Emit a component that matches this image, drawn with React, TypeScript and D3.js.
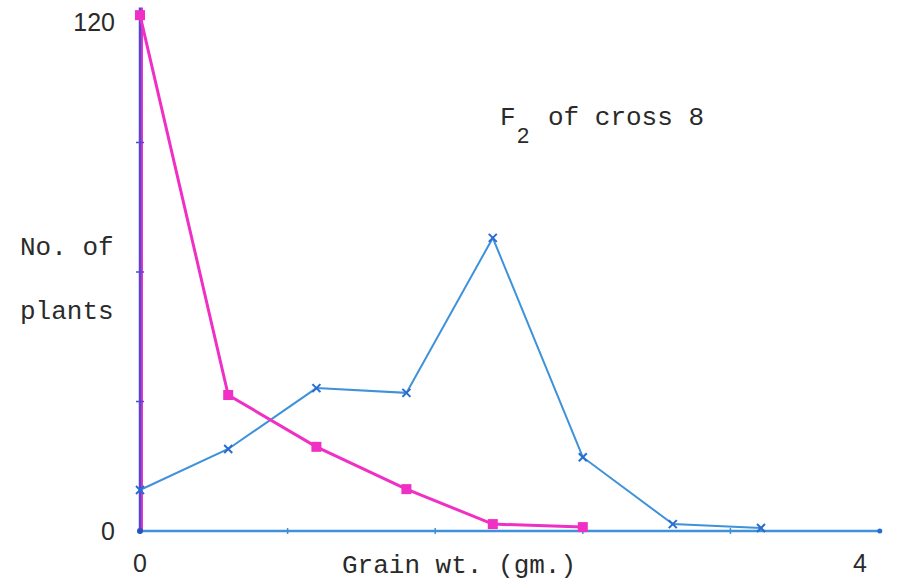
import * as d3 from 'd3';

// grain weight classes (gm.) and plant counts
const classX = [0, 0.49, 0.98, 1.48, 1.96, 2.46, 2.96, 3.45];
const pinkCounts = [119.5, 31.5, 19.5, 9.7, 1.6, 0.9];
const blueCounts = [9.5, 19, 33.1, 32, 67.9, 17.1, 1.6, 0.7];

const xTickMarks = [0.82, 1.64, 2.46, 3.28];
const yTickMarks = [30, 60, 90];
const xLabels = [0, 4];
const yLabels = [0, 120];
const xAxisEnd = 4.11;
const yAxisEnd = 121.3;

const W = 907;
const H = 583;
const PINK = '#f02fc4';
const BLUE = '#3f92da';
const MARK_BLUE = '#2a6ccf';
const AXIS_VIOLET = '#5547d6';
const mono = '"Liberation Mono", "Courier New", monospace';
const sans = '"Liberation Sans", Arial, sans-serif';

export default function App() {
  const x = d3.scaleLinear().domain([0, 4]).range([140, 860]);
  const y = d3.scaleLinear().domain([0, 120]).range([531, 13]);

  const pink = pinkCounts.map((v, i) => [classX[i], v] as [number, number]);
  const blue = blueCounts.map((v, i) => [classX[i], v] as [number, number]);

  const line = d3
    .line<[number, number]>()
    .x((d) => x(d[0]))
    .y((d) => y(d[1]));

  return (
    <div style={{ position: 'fixed', left: 0, top: 0 }}>
      <svg width={W} height={H} viewBox={`0 0 ${W} ${H}`} style={{ display: 'block', background: '#fff' }}>
        {/* x axis */}
        <line x1={x(0)} x2={x(xAxisEnd)} y1={y(0)} y2={y(0)} stroke={BLUE} strokeWidth={2.5} />
        <circle cx={x(xAxisEnd)} cy={y(0)} r={2.5} fill={MARK_BLUE} />
        {xTickMarks.map((t) => (
          <line key={t} x1={x(t)} x2={x(t)} y1={y(0) - 3} y2={y(0) + 3} stroke={BLUE} strokeWidth={1.5} />
        ))}
        {/* y axis, with the pink trace running beside it */}
        <line x1={x(0) + 2} x2={x(0) + 2} y1={y(0)} y2={y(yAxisEnd)} stroke={PINK} strokeWidth={2} />
        <line x1={x(0)} x2={x(0)} y1={y(0)} y2={y(yAxisEnd)} stroke={AXIS_VIOLET} strokeWidth={2.5} />
        {yTickMarks.map((t) => (
          <line key={t} x1={x(0) - 4} x2={x(0) + 4} y1={y(t)} y2={y(t)} stroke={AXIS_VIOLET} strokeWidth={1.5} />
        ))}
        <circle cx={x(0)} cy={y(0)} r={3} fill="#2a4fc0" />

        {/* series */}
        <path d={line(blue) ?? ''} fill="none" stroke={BLUE} strokeWidth={2} />
        <path d={line(pink) ?? ''} fill="none" stroke={PINK} strokeWidth={3} />
        {blue.map((d, i) => (
          <g key={i} transform={`translate(${x(d[0])},${y(d[1])})`} stroke={MARK_BLUE} strokeWidth={2}>
            <line x1={-4} y1={-4} x2={4} y2={4} />
            <line x1={-4} y1={4} x2={4} y2={-4} />
          </g>
        ))}
        {pink.map((d, i) => (
          <rect key={i} x={x(d[0]) - 5} y={y(d[1]) - 5} width={10} height={10} fill={PINK} />
        ))}

        {/* tick labels */}
        {xLabels.map((t) => (
          <text key={t} x={x(t)} y={572} textAnchor="middle" fontFamily={sans} fontSize={25} fill="#2a2a2a">
            {t}
          </text>
        ))}
        {yLabels.map((t) => (
          <text
            key={t}
            x={115}
            y={y(t) + (t === 0 ? 9 : 18)}
            textAnchor="end"
            fontFamily={sans}
            fontSize={25}
            fill="#2a2a2a"
          >
            {t}
          </text>
        ))}

        {/* titles */}
        <text x={342} y={573} fontFamily={mono} fontSize={26} fill="#2a2a2a">
          Grain wt. (gm.)
        </text>
        <text x={20} y={255} fontFamily={mono} fontSize={26} fill="#2a2a2a">
          No. of
        </text>
        <text x={20} y={319} fontFamily={mono} fontSize={26} fill="#2a2a2a">
          plants
        </text>
        <text x={500} y={125} fontFamily={mono} fontSize={26} fill="#2a2a2a">
          F
        </text>
        <text x={517} y={143} fontFamily={sans} fontSize={22} fill="#2a2a2a">
          2
        </text>
        <text x={548} y={125} fontFamily={mono} fontSize={26} fill="#2a2a2a">
          of cross 8
        </text>
      </svg>
    </div>
  );
}
